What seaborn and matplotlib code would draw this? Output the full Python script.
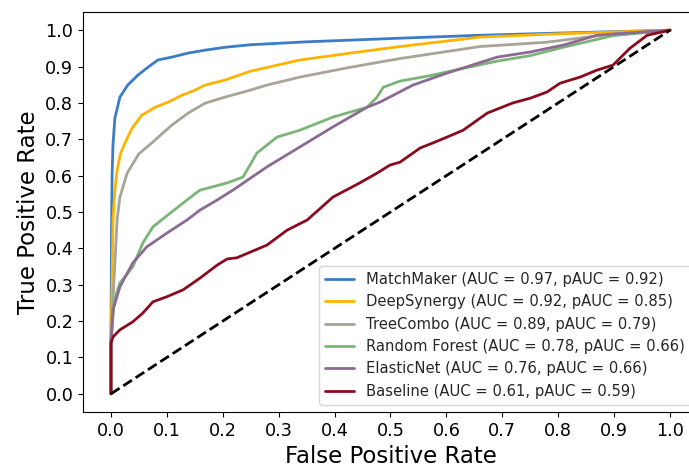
import numpy as np
import pandas as pd
import matplotlib
matplotlib.use("Agg")
import matplotlib.pyplot as plt
import seaborn as sns

sns.set_style("ticks")
plt.rcParams["font.family"] = ["DejaVu Sans"]

# ROC points (fpr, tpr)
matchmaker_fpr = [0.0, 0.0, 0.001, 0.002, 0.0036, 0.007, 0.016, 0.03, 0.048, 0.066, 0.084, 0.109, 0.138,
                  0.168, 0.204, 0.25, 0.35, 0.517, 0.66, 0.8, 0.9, 1.0]
matchmaker_tpr = [0.0, 0.14, 0.45, 0.60, 0.684, 0.758, 0.816, 0.849, 0.876, 0.898, 0.918, 0.926, 0.937,
                  0.945, 0.953, 0.96, 0.968, 0.978, 0.986, 0.992, 0.996, 1.0]

deepsynergy_fpr = [0.0, 0.0, 0.002, 0.0036, 0.007, 0.011, 0.017, 0.025, 0.038, 0.055, 0.079, 0.102, 0.127,
                   0.15, 0.168, 0.204, 0.249, 0.338, 0.428, 0.517, 0.66, 0.8, 0.898, 1.0]
deepsynergy_tpr = [0.0, 0.14, 0.30, 0.478, 0.56, 0.615, 0.66, 0.69, 0.731, 0.766, 0.788, 0.802, 0.821,
                   0.835, 0.849, 0.863, 0.887, 0.918, 0.937, 0.955, 0.981, 0.99, 0.995, 1.0]

treecombo_fpr = [0.0, 0.0, 0.005, 0.011, 0.016, 0.029, 0.05, 0.073, 0.109, 0.138, 0.168, 0.204, 0.249,
                 0.279, 0.338, 0.428, 0.517, 0.66, 0.78, 0.898, 1.0]
treecombo_tpr = [0.0, 0.14, 0.30, 0.478, 0.541, 0.607, 0.66, 0.69, 0.739, 0.772, 0.799, 0.816, 0.835,
                 0.849, 0.871, 0.898, 0.922, 0.955, 0.967, 0.99, 1.0]

rf_fpr = [0.0, 0.0, 0.003, 0.006, 0.016, 0.039, 0.057, 0.075, 0.106, 0.136, 0.159, 0.208, 0.236, 0.254,
          0.261, 0.297, 0.338, 0.397, 0.458, 0.476, 0.487, 0.517, 0.571, 0.63, 0.691, 0.75, 0.809, 0.898, 1.0]
rf_tpr = [0.0, 0.13, 0.20, 0.258, 0.305, 0.349, 0.415, 0.459, 0.497, 0.533, 0.56, 0.58, 0.596, 0.643,
          0.662, 0.706, 0.725, 0.761, 0.788, 0.816, 0.843, 0.86, 0.875, 0.895, 0.915, 0.93, 0.953, 0.985, 1.0]

elasticnet_fpr = [0.0, 0.0, 0.0036, 0.016, 0.039, 0.064, 0.1, 0.136, 0.159, 0.19, 0.218, 0.279, 0.338,
                  0.397, 0.458, 0.481, 0.54, 0.601, 0.691, 0.75, 0.809, 0.869, 1.0]
elasticnet_tpr = [0.0, 0.14, 0.231, 0.294, 0.36, 0.404, 0.442, 0.478, 0.505, 0.533, 0.56, 0.624, 0.679,
                  0.734, 0.788, 0.802, 0.849, 0.882, 0.926, 0.94, 0.959, 0.986, 1.0]

baseline_fpr = [0.0, 0.0, 0.004, 0.016, 0.039, 0.057, 0.075, 0.1, 0.129, 0.159, 0.19, 0.208, 0.225, 0.279,
                0.315, 0.351, 0.397, 0.445, 0.476, 0.499, 0.517, 0.553, 0.576, 0.601, 0.63, 0.673, 0.719,
                0.75, 0.78, 0.803, 0.839, 0.869, 0.898, 0.928, 0.959, 1.0]
baseline_tpr = [0.0, 0.14, 0.157, 0.176, 0.198, 0.222, 0.253, 0.267, 0.286, 0.318, 0.354, 0.371, 0.374, 0.409,
                0.45, 0.478, 0.541, 0.58, 0.607, 0.629, 0.637, 0.676, 0.69, 0.706, 0.725, 0.772, 0.80,
                0.813, 0.83, 0.854, 0.871, 0.89, 0.904, 0.95, 0.986, 1.0]

labels = [
    "MatchMaker (AUC = 0.97, pAUC = 0.92)",
    "DeepSynergy (AUC = 0.92, pAUC = 0.85)",
    "TreeCombo (AUC = 0.89, pAUC = 0.79)",
    "Random Forest (AUC = 0.78, pAUC = 0.66)",
    "ElasticNet (AUC = 0.76, pAUC = 0.66)",
    "Baseline (AUC = 0.61, pAUC = 0.59)",
]
colors = ["#3B7CC6", "#FFB300", "#A8A496", "#7AB577", "#8B6A94", "#8B0B1E"]

curves = [
    (matchmaker_fpr, matchmaker_tpr),
    (deepsynergy_fpr, deepsynergy_tpr),
    (treecombo_fpr, treecombo_tpr),
    (rf_fpr, rf_tpr),
    (elasticnet_fpr, elasticnet_tpr),
    (baseline_fpr, baseline_tpr),
]

fig = plt.figure(figsize=(6.89, 4.70), dpi=100)
ax = fig.add_axes([83 / 689, 58 / 470, 615 / 689, 400 / 470])

for (fpr, tpr), label, color in zip(curves, labels, colors):
    df = pd.DataFrame({"fpr": fpr, "tpr": tpr})
    sns.lineplot(data=df, x="fpr", y="tpr", sort=False, estimator=None,
                 color=color, linewidth=2, label=label, ax=ax)

# chance line
ax.plot([0, 1], [0, 1], color="black", linestyle="--", linewidth=2)

ticks = np.arange(0, 1.01, 0.1)
ax.set_xlim(-0.05, 1.05)
ax.set_ylim(-0.05, 1.05)
ax.set_xticks(ticks)
ax.set_yticks(ticks)
ax.set_xticklabels([f"{v:.1f}" for v in ticks])
ax.set_yticklabels([f"{v:.1f}" for v in ticks])
ax.tick_params(labelsize=12.7, colors="black")
for s in ax.spines.values():
    s.set_color("black")
ax.set_xlabel("False Positive Rate", fontsize=16.5, color="black")
ax.set_ylabel("True Positive Rate", fontsize=16.5, color="black")
ax.legend(loc="lower right", fontsize=10.6)

plt.savefig("out.png", dpi=100)
plt.close()
